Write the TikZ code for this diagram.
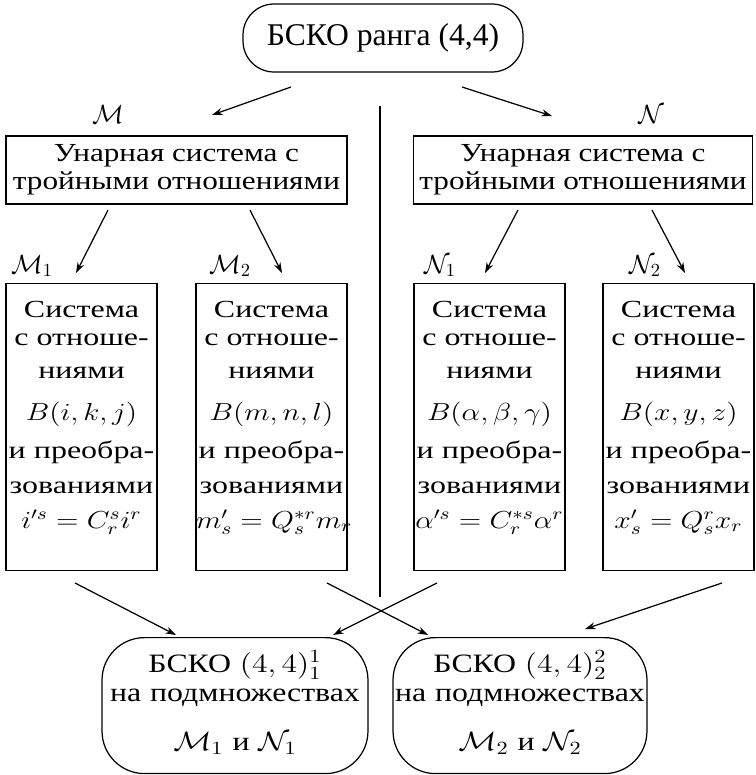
\documentclass[tikz,border=0pt]{standalone}
\usepackage{fix-cm}
\usepackage{graphicx}
\usepackage{fontspec}
\setmainfont{Liberation Serif}[FakeStretch=1.2]
\newfontfamily\plainfont{Liberation Serif}
\newfontfamily\widefont{Liberation Serif}[FakeStretch=1.3]
\newcommand{\wm}[1]{\scalebox{1.2}[1]{$#1$}}
\usetikzlibrary{arrows.meta}
\tikzset{
 rbox/.style={draw, rounded corners=0.85cm, inner sep=0pt, align=center, anchor=north},
 ubox/.style={draw, inner sep=0pt, align=center, minimum height=1.36cm, font=\fontsize{14.8}{16.2}\selectfont},
 sbox/.style={draw, inner sep=0pt, align=center, anchor=north, text width=3.02cm,
   text height=0.68cm, text depth=5.06cm, font=\widefont\fontsize{14}{19.8}\selectfont},
 lbl/.style={inner sep=0pt, anchor=base, font=\fontsize{15}{18}\selectfont}
}
\begin{document}
\begin{tikzpicture}[>={Stealth[length=6pt,width=4pt]}, line width=0.7pt, x=0.02cm, y=-0.02cm]
 \useasboundingbox (0,0) rectangle (755,775);
 \node[draw, rounded corners=0.62cm, inner sep=0pt, minimum width=5.6cm, minimum height=1.36cm,
   font=\plainfont\fontsize{18}{20}\selectfont] (top) at (383,38) {БСКО ранга (4,4)};
 \node[ubox, minimum width=6.82cm] (unM) at (176.5,170) {Унарная система с\\ тройными отношениями};
 \node[ubox, minimum width=6.78cm] (unN) at (583,170) {Унарная система с\\ тройными отношениями};
 \node[lbl] (M) at (108,123) {$\mathcal{M}$};
 \node[lbl] (N) at (651,123) {$\mathcal{N}$};
 \node[lbl] (M1) at (32,273) {$\mathcal{M}_1$};
 \node[lbl] (M2) at (230,273) {$\mathcal{M}_2$};
 \node[lbl] (N1) at (440,273) {$\mathcal{N}_1$};
 \node[lbl] (N2) at (645,273) {$\mathcal{N}_2$};
 \node[sbox] (sM1) at (81.5,283) {Система\\[-4pt] с отноше-\\[-1pt] ниями\\[4pt] \wm{B(i,k,j)}\\[2pt]
   и преобра-\\ зованиями\\ \wm{i'^s=C_r^s i^r}};
 \node[sbox] (sM2) at (271.5,283) {Система\\[-4pt] с отноше-\\[-1pt] ниями\\[4pt] \wm{B(m,n,l)}\\[2pt]
   и преобра-\\ зованиями\\ \wm{m'_s=Q_s^{*r} m_r}};
 \node[sbox] (sN1) at (489.5,283) {Система\\[-4pt] с отноше-\\[-1pt] ниями\\[4pt] \wm{B(\alpha,\beta,\gamma)}\\[2pt]
   и преобра-\\ зованиями\\ \wm{\alpha'^s=C_r^{*s} \alpha^r}};
 \node[sbox] (sN2) at (678.5,283) {Система\\[-4pt] с отноше-\\[-1pt] ниями\\[4pt] \wm{B(x,y,z)}\\[2pt]
   и преобра-\\ зованиями\\ \wm{x'_s=Q_s^r x_r}};
 \node[rbox, text width=5.32cm, text height=0.7cm, text depth=2.02cm,
   font=\fontsize{15.1}{16.2}\selectfont] (bo1) at (235,637)
   {БСКО \wm{(4,4)^1_1}\\ на подмножествах\\[12pt] \wm{\mathcal{M}_1} и \wm{\mathcal{N}_1}};
 \node[rbox, text width=5.08cm, text height=0.7cm, text depth=2.02cm,
   font=\fontsize{15.1}{16.2}\selectfont] (bo2) at (520,637)
   {БСКО \wm{(4,4)^2_2}\\ на подмножествах\\[12pt] \wm{\mathcal{M}_2} и \wm{\mathcal{N}_2}};
 \coordinate (t1s) at (291,87); \coordinate (t1e) at (212,115);
 \coordinate (t2s) at (462,87); \coordinate (t2e) at (552,116);
 \coordinate (u1s) at (108,210); \coordinate (u1e) at (76,273);
 \coordinate (u2s) at (250,210); \coordinate (u2e) at (282,273);
 \coordinate (u3s) at (518,210); \coordinate (u3e) at (485,273);
 \coordinate (u4s) at (652,210); \coordinate (u4e) at (685,273);
 \coordinate (b1s) at (75,583); \coordinate (b1e) at (176,635);
 \coordinate (b2s) at (327,583); \coordinate (b2e) at (428,635);
 \coordinate (b3s) at (437,583); \coordinate (b3e) at (333,635);
 \coordinate (b4s) at (722,583); \coordinate (b4e) at (585,629);
 \coordinate (vs) at (380,106); \coordinate (ve) at (380,597);
 \draw (vs) -- (ve);
 \draw[->] (t1s) -- (t1e);
 \draw[->] (t2s) -- (t2e);
 \draw[->] (u1s) -- (u1e);
 \draw[->] (u2s) -- (u2e);
 \draw[->] (u3s) -- (u3e);
 \draw[->] (u4s) -- (u4e);
 \draw[->] (b1s) -- (b1e);
 \draw[->] (b2s) -- (b2e);
 \draw[->] (b3s) -- (b3e);
 \draw[->] (b4s) -- (b4e);
\end{tikzpicture}
\end{document}
